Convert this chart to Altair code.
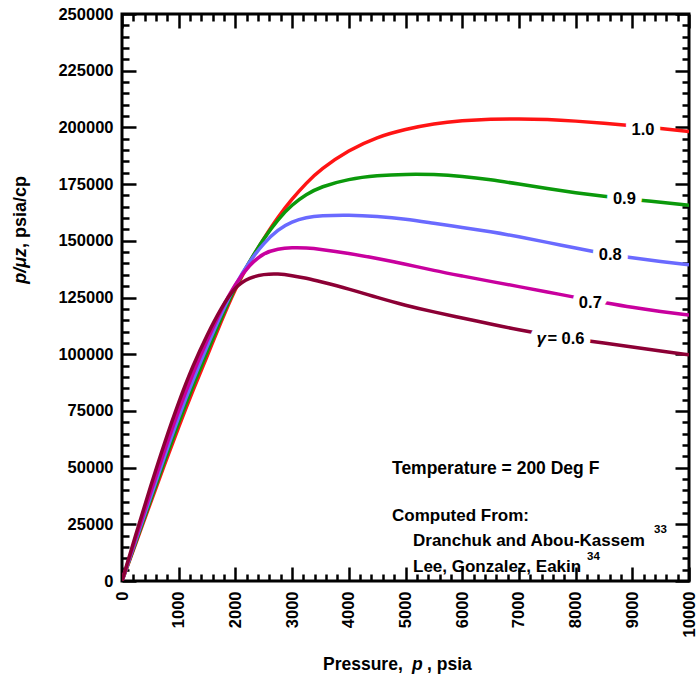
import altair as alt
import pandas as pd

# ---------------- data ----------------
pressure = [0, 250, 500, 750, 1000, 1250, 1500, 1750, 2000, 2250, 2500, 2750,
            3000, 3250, 3500, 4000, 4500, 5000, 5500, 6000, 6500, 7000, 7500,
            8000, 8500, 9000, 9500, 10000]

ppz_10 = [0, 17000, 34300, 51300, 68000, 84000, 99000, 114500, 129000, 140700,
          151000, 160500, 168500, 175500, 181500, 190000, 195800, 199200, 201700,
          203000, 203700, 203800, 203500, 202800, 201900, 200800, 199500, 198200]
ppz_09 = [0, 17700, 35300, 53000, 70000, 86000, 101000, 115800, 130000, 141000,
          151000, 159500, 166000, 170500, 173800, 177300, 178800, 179400, 179300,
          178500, 177000, 175000, 173000, 171200, 169600, 168200, 167000, 165700]
ppz_08 = [0, 18500, 36800, 55000, 72500, 88500, 103500, 117800, 130800, 141000,
          149000, 155000, 158500, 160300, 161100, 161400, 160800, 159700, 157700,
          155900, 154000, 151800, 149300, 146800, 144300, 142500, 140900, 139400]
ppz_07 = [0, 19500, 38800, 57500, 75500, 91500, 106000, 119800, 131200, 139500,
          144700, 146500, 147000, 146900, 146300, 144500, 142200, 139700, 136900,
          134500, 132100, 129800, 127500, 125000, 122800, 120600, 118800, 117300]
ppz_06 = [0, 21000, 41500, 61000, 79000, 95000, 108500, 120500, 130000, 133800,
          135300, 135500, 134700, 133500, 132000, 128800, 125000, 121500, 118600,
          116000, 113300, 110700, 108500, 106600, 104900, 103200, 101400, 99700]

gammas = ["1.0", "0.9", "0.8", "0.7", "0.6"]
series = [ppz_10, ppz_09, ppz_08, ppz_07, ppz_06]
colors = ["#ff1414", "#0b990b", "#6a6aff", "#c8009e", "#8c0035"]

# curve labels (the 0.6 label carries an italic gamma before it)
label_text = ["1.0", "0.9", "0.8", "0.7", "= 0.6"]
label_p = [9190, 8860, 8610, 8260, 7830]
label_v = [199000, 168500, 143800, 122600, 106700]
gamma_symbol = "\u03b3"

x_ticks = list(range(0, 10001, 200))
y_ticks = list(range(0, 250001, 5000))

note_lines = ["Temperature = 200 Deg F", "Computed From:",
              "Dranchuk and Abou-Kassem", "Lee, Gonzalez, Eakin"]
note_refs = ["33", "34"]

# ---------------- styling ----------------
FONT = "Liberation Sans"
W = H = 567

rows = []
for g, vals in zip(gammas, series):
    for p, v in zip(pressure, vals):
        rows.append({"p": p, "v": v, "gamma": g})
df = pd.DataFrame(rows)
labels_df = pd.DataFrame({"p": label_p, "v": label_v, "t": label_text})
gamma_df = pd.DataFrame({"p": [label_p[-1]], "v": [label_v[-1]], "t": [gamma_symbol]})

xscale = alt.Scale(domain=[0, 10000], nice=False, zero=True)
yscale = alt.Scale(domain=[0, 250000], nice=False, zero=True)

mx = "datum.value % 1000 === 0"
my = "datum.value % 25000 === 0"

common_tick = dict(tickColor="black", tickWidth=2.5, domain=False, grid=False, title=None)

x_bottom = alt.Axis(orient="bottom", values=x_ticks, format="d",
                    labelExpr=f"{mx} ? datum.label : ''",
                    labelAngle=270, labelFont=FONT, labelFontSize=16.5,
                    labelFontWeight="bold", labelColor="black", labelPadding=24,
                    labelFlush=False, labelOverlap=False,
                    tickSize={"expr": f"{mx} ? -14 : -7"}, **common_tick)
x_top = alt.Axis(orient="top", values=x_ticks, labels=False,
                 tickSize={"expr": f"{mx} ? -14 : -7"}, **common_tick)
y_left = alt.Axis(orient="left", values=y_ticks, format="d",
                  labelExpr=f"{my} ? datum.label : ''",
                  labelFont=FONT, labelFontSize=16.5, labelFontWeight="bold",
                  labelColor="black", labelPadding=23, labelFlush=False,
                  labelOverlap=False,
                  tickSize={"expr": f"{my} ? -14 : -7"}, **common_tick)
y_right = alt.Axis(orient="right", values=y_ticks, labels=False,
                   tickSize={"expr": f"{my} ? -14 : -7"}, **common_tick)

layers = []
for i, (g, c) in enumerate(zip(gammas, colors)):
    xa = x_bottom if i == 0 else (x_top if i == 1 else None)
    ya = y_left if i == 0 else (y_right if i == 1 else None)
    layers.append(
        alt.Chart(df).transform_filter(alt.datum.gamma == g)
        .mark_line(color=c, strokeWidth=3.5, interpolate="basis", clip=True)
        .encode(x=alt.X("p:Q", scale=xscale, axis=xa),
                y=alt.Y("v:Q", scale=yscale, axis=ya))
    )


def curve_text(data, halo, **extra):
    style = dict(font=FONT, fontSize=16.5, fontWeight="bold")
    style.update(extra)
    if halo:
        style.update(fill="white", stroke="white", strokeWidth=13, strokeJoin="round")
    else:
        style.update(color="black")
    return alt.Chart(data).mark_text(**style).encode(
        x=alt.X("p:Q", scale=xscale, axis=None),
        y=alt.Y("v:Q", scale=yscale, axis=None), text="t:N")


gamma_style = dict(fontSize=17, fontStyle="italic", align="right", dx=-20)
layers += [
    curve_text(labels_df, True),
    curve_text(gamma_df, True, **gamma_style),
    curve_text(labels_df, False),
    curve_text(gamma_df, False, **gamma_style),
]


def note(text, x, y, size=17, style="normal", weight="bold", align="left", angle=0):
    kw = dict(font=FONT, fontSize=size, fontWeight=weight, fontStyle=style,
              color="black", align=align, baseline="middle")
    if angle:
        kw["angle"] = angle
    return alt.Chart(pd.DataFrame({"t": [text]})).mark_text(**kw).encode(
        x=alt.value(x), y=alt.value(y), text="t:N")


layers += [
    note(note_lines[0], 270, 455, size=17.5),
    note(note_lines[1], 270, 502),
    note(note_lines[2], 291, 527),
    note(note_lines[3], 291, 553),
    note(note_refs[0], 532, 516, size=11.5),
    note(note_refs[1], 465, 543, size=11.5),
    # x axis title
    note("Pressure,", 201, 651, size=17.5),
    note("p", 290, 651, size=17.5, style="italic"),
    note(", psia", 305, 651, size=17.5),
    # y axis title
    note("p/\u03bcz", -101, 234, size=18, style="italic", align="right", angle=270),
    note(", psia/cp", -101, 234, size=18, align="left", angle=270),
]

chart = alt.layer(*layers).resolve_axis(x="independent", y="independent").properties(
    width=W, height=H,
    autosize=alt.AutoSizeParams(type="none"),
    padding={"left": 122, "top": 14, "right": 7, "bottom": 100},
    background="white",
).configure_view(stroke="black", strokeWidth=3)

chart.save("out.html", embed_options={"renderer": "svg", "actions": False})
